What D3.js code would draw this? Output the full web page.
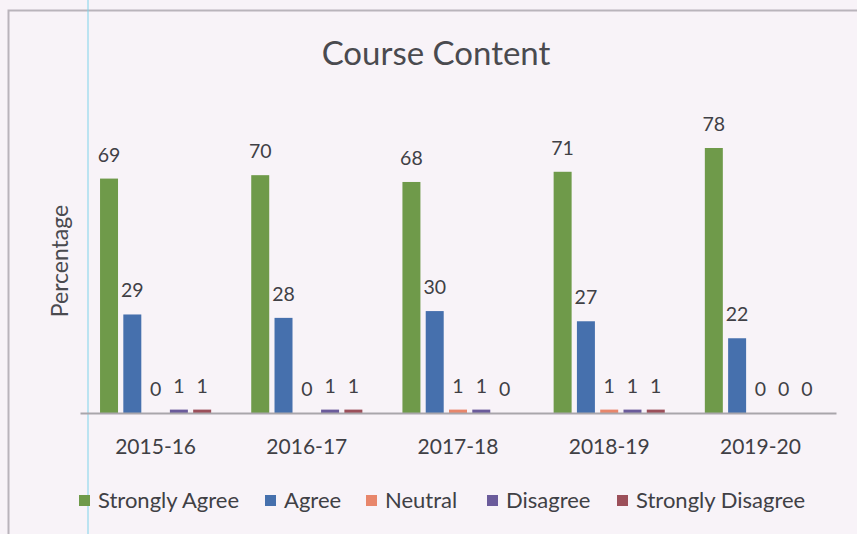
<!DOCTYPE html>
<html><head><meta charset="utf-8">
<script src="https://cdn.jsdelivr.net/npm/d3@7"></script>
<style>body{margin:0;background:#f8f3f8;}svg{display:block;}</style>
</head><body><svg id="c" width="857" height="534"></svg>
<script>
const categories = ["2015-16","2016-17","2017-18","2018-19","2019-20"];
const seriesNames = ["Strongly Agree","Agree","Neutral","Disagree","Strongly Disagree"];
const stronglyAgree = [69,70,68,71,78];
const agree = [29,28,30,27,22];
const neutral = [0,0,1,1,0];
const disagree = [1,1,1,1,0];
const stronglyDisagree = [1,1,0,1,0];
const colors = ["#6f9a4a","#4670ad","#e8866b","#6b5b9b","#9c4f5a"];
const seriesValues = [stronglyAgree, agree, neutral, disagree, stronglyDisagree];

const svg = d3.select("#c");
const W = 857, H = 534;
svg.append("rect").attr("width",W).attr("height",H).attr("fill","#f8f3f8");
// frame
svg.append("path").attr("d","M8.5,534 L8.5,10.5 L857,10.5").attr("fill","none").attr("stroke","#b9b4bb").attr("stroke-width",2);
// scan artifact line
svg.append("line").attr("x1",88).attr("x2",88).attr("y1",0).attr("y2",H).attr("stroke","#7fd3ea").attr("stroke-width",1);

const font = "Lato, 'Open Sans', sans-serif";
const x0 = d3.scaleBand().domain(categories).range([80,836]).paddingInner(0.265).paddingOuter(0.1325);
const x1 = d3.scaleBand().domain(seriesNames).range([0,x0.bandwidth()]).paddingInner(0.2275);
const y = d3.scaleLinear().domain([0,78]).range([413,148]);

svg.append("text").attr("x",436).attr("y",65).attr("text-anchor","middle")
  .attr("font-family",font).attr("font-size",33).attr("fill","#4a4a4f").text("Course Content");

svg.append("text").attr("transform","translate(68,261) rotate(-90)").attr("text-anchor","middle")
  .attr("font-family",font).attr("font-size",23).attr("fill","#4a4a4f").text("Percentage");

const g = svg.append("g");
seriesNames.forEach((s,si)=>{
  categories.forEach((c,ci)=>{
    const v = seriesValues[si][ci];
    const bx = x0(c)+x1(s);
    g.append("rect").attr("x",bx).attr("y",y(v)).attr("width",x1.bandwidth())
      .attr("height",Math.max(0,y(0)-y(v))).attr("fill",colors[si]);
    g.append("text").attr("x",bx+x1.bandwidth()/2).attr("y",y(v)-17).attr("text-anchor","middle")
      .attr("font-family",font).attr("font-size",19.5).attr("fill","#404045").text(v);
  });
});

// baseline axis
const ax = svg.append("g").attr("transform","translate(0,413)").call(d3.axisBottom(x0).tickSize(0).tickPadding(35));
ax.select(".domain").attr("stroke","#a9a6ab").attr("stroke-width",2);
ax.selectAll("text").attr("font-family",font).attr("font-size",21).attr("fill","#404045").attr("dy","0.3em");

// legend
const legX = [79,265,366,487,617];
seriesNames.forEach((s,i)=>{
  svg.append("rect").attr("x",legX[i]).attr("y",495).attr("width",11).attr("height",11).attr("fill",colors[i]);
  svg.append("text").attr("x",legX[i]+19).attr("y",508).attr("font-family",font).attr("font-size",22)
    .attr("fill","#404045").text(s);
});
</script></body></html>
